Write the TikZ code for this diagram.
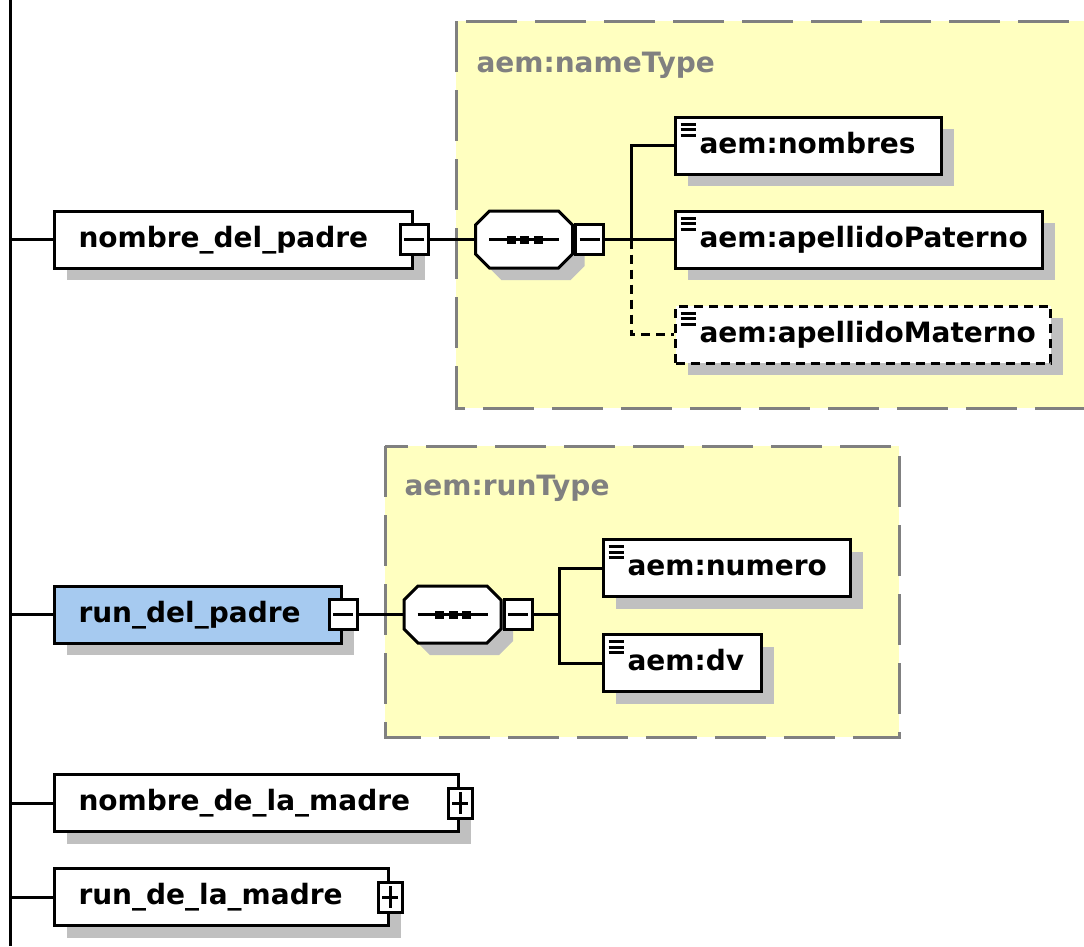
\documentclass[tikz,border=0pt]{standalone}
\usepackage{fontspec}
\setmainfont{DejaVu Sans}
\usetikzlibrary{shadows}
\definecolor{typefill}{RGB}{255,255,192}
\definecolor{typeline}{RGB}{128,128,128}
\definecolor{shadowgray}{RGB}{192,192,192}
\definecolor{selblue}{RGB}{166,202,240}
\hyphenpenalty=10000

\begin{document}
\begin{tikzpicture}[x=1pt, y=-1pt, line width=3pt,
  box/.style={draw, fill=white, anchor=west, minimum height=57pt,
    inner xsep=24pt, inner ysep=0pt, align=left, text height=21pt, text depth=5.5pt,
    font=\fontsize{28}{32}\selectfont\bfseries,
    drop shadow={shadow xshift=12pt, shadow yshift=-12pt, fill=shadowgray, opacity=1}},
  leaf/.style={box, path picture={\foreach \dy in {7,12.5,18}
      \draw[solid, line width=3pt] ([xshift=5pt, yshift=-\dy pt]path picture bounding box.north west) -- ++(15pt,0pt);}},
  opt/.style={dash pattern=on 9pt off 6pt},
  minus/.style={draw, fill=white, minimum width=28pt, minimum height=30pt, inner sep=0pt,
    path picture={\draw[line width=3pt] ([xshift=4pt]path picture bounding box.west) -- ([xshift=-4pt]path picture bounding box.east);}},
  plus/.style={minus, minimum width=24pt,
    path picture={\draw[line width=3pt] ([xshift=4pt]path picture bounding box.west) -- ([xshift=-4pt]path picture bounding box.east)
      ([yshift=-4pt]path picture bounding box.north) -- ([yshift=4pt]path picture bounding box.south);}},
  seqslot/.style={minimum width=97pt, minimum height=57pt, inner sep=0pt},
  typebox/.style={draw=typeline, fill=typefill, dash pattern=on 51pt off 18pt},
  typename/.style={anchor=base west, text=typeline, inner sep=0pt, font=\fontsize{28}{32}\selectfont\bfseries}]
  \useasboundingbox (0,0) rectangle (1084,946);
  \draw[typebox] (456,21) rectangle (1100,408);
  \node[typename] (nametype) at (475,72) {aem:nameType};
  \draw[typebox] (385,446) rectangle (899,737);
  \node[typename] (runtype) at (403,495) {aem:runType};

  \coordinate (top) at (10.5,0);
  \coordinate (bottom) at (10.5,946);
  \draw (top) -- (bottom);

  \node[seqslot] (seqa) at (524,239.5) {};
  \node[seqslot] (seqb) at (452.5,614.5) {};
  \foreach \s in {seqa,seqb} {
    \begin{scope}[shift={(\s.center)}]
      \fill[shadowgray] (-36.5,-2.5) -- (-22.5,-16.5) -- (46.5,-16.5) -- (60.5,-2.5) -- (60.5,26.5) -- (46.5,40.5) -- (-22.5,40.5) -- (-36.5,26.5) -- cycle;
      \filldraw[fill=white] (-48.5,-14.5) -- (-34.5,-28.5) -- (34.5,-28.5) -- (48.5,-14.5) -- (48.5,14.5) -- (34.5,28.5) -- (-34.5,28.5) -- (-48.5,14.5) -- cycle;
      \draw (-35,0) -- (35,0);
      \foreach \dx in {-13,0.5,14}
        \fill (\dx-4.5,-4) rectangle (\dx+4.5,4);
    \end{scope}
  }

  \node[box, text width=310pt] (ndp) at (53,239.5) {nombre\_del\_padre};
  \node[minus] (ndpx) at (ndp.east) {};
  \node[minus, anchor=west] (seqax) at (seqa.east) {};
  \node[leaf, text width=218pt] (nombres) at (674,145.5) {aem:nombres};
  \node[leaf, text width=319pt] (paterno) at (674,239.5) {aem:apellidoPaterno};
  \node[leaf, opt, text width=327pt] (materno) at (674,334.5) {aem:apellidoMaterno};
  \coordinate (forka) at (631,239.5);

  \node[box, fill=selblue, text width=239pt] (rdp) at (53,614.5) {run\_del\_padre};
  \node[minus] (rdpx) at (rdp.east) {};
  \node[minus, anchor=west] (seqbx) at (seqb.east) {};
  \node[leaf, text width=199pt] (numero) at (602,568) {aem:numero};
  \node[leaf, text width=110pt] (dv) at (602,663) {aem:dv};
  \coordinate (forkb) at (559,614.5);

  \node[box, text width=356pt] (ndm) at (53,803) {nombre\_de\_la\_madre};
  \node[plus] (ndmx) at (ndm.east) {};
  \node[box, text width=286pt] (rdm) at (53,897) {run\_de\_la\_madre};
  \node[plus] (rdmx) at (rdm.east) {};

  \foreach \n in {ndp,rdp,ndm,rdm}
    \draw (\n.west -| top) -- (\n.west);
  \draw (ndpx.east) -- (seqa.west);
  \draw (seqax.east) -- (forka) |- (nombres.west);
  \draw (forka) -- (paterno.west);
  \draw[opt] (forka) |- (materno.west);
  \draw (rdpx.east) -- (seqb.west);
  \draw (seqbx.east) -- (forkb) |- (numero.west);
  \draw (forkb) |- (dv.west);
\end{tikzpicture}
\end{document}
